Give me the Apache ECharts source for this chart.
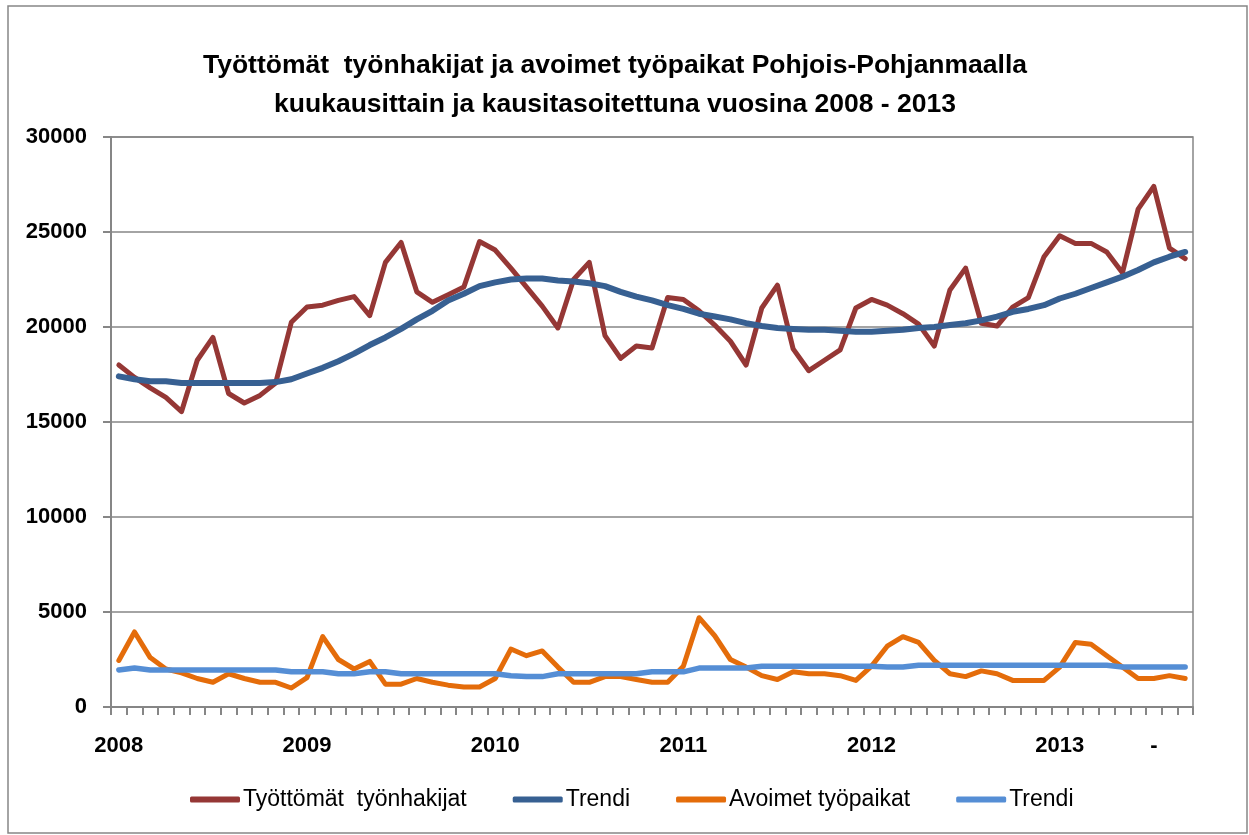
<!DOCTYPE html>
<html>
<head>
<meta charset="utf-8">
<script src="https://cdn.jsdelivr.net/npm/echarts@6/dist/echarts.min.js"></script>
<style>
html,body{margin:0;padding:0;background:#fff;}
#chart{width:1249px;height:835px;}
</style>
</head>
<body>
<div id="chart"></div>
<script>
// Monthly categories Jan 2008 - Sep 2013
const years = [2008, 2009, 2010, 2011, 2012, 2013];
const categories = [];
years.forEach(y => { for (let m = 1; m <= 12; m++) { if (y === 2013 && m > 9) break; categories.push(y + '-' + (m < 10 ? '0' + m : m)); } });

const tickLabels = [
  '2008','','','','','','','','','','','',
  '2009','','','','','','','','','','','',
  '2010','','','','','','','','','','','',
  '2011','','','','','','','','','','','',
  '2012','','','','','','','','','','','',
  '2013','','','','','','-','',''
];

const unemployed = [
  18000,17350,16800,16300,15550,18250,19450,16500,16000,16400,17050,20250,
  21050,21150,21400,21600,20600,23400,24450,21850,21300,21700,22100,24500,
  24050,23100,22100,21100,19950,22500,23400,19550,18350,19000,18900,21550,
  21450,20850,20100,19250,18000,21000,22200,18850,17700,18250,18800,21000,
  21450,21150,20700,20150,19000,21950,23100,20200,20050,21050,21550,23700,
  24800,24400,24400,23950,22850,26200,27400,24150,23600
];
const unemployedTrend = [
  17400,17250,17150,17150,17050,17050,17050,17050,17050,17050,17100,17250,
  17550,17850,18200,18600,19050,19450,19900,20400,20850,21400,21750,22150,
  22350,22500,22550,22550,22450,22400,22300,22150,21850,21600,21400,21150,
  20950,20700,20550,20400,20200,20050,19950,19900,19850,19850,19800,19750,
  19750,19800,19850,19950,20000,20100,20200,20350,20550,20800,20950,21150,
  21500,21750,22050,22350,22650,23000,23400,23700,23950
];
const vacancies = [
  2450,3950,2600,2000,1800,1500,1300,1750,1500,1300,1300,1000,
  1550,3700,2500,2000,2400,1200,1200,1500,1300,1150,1050,1050,
  1500,3050,2700,2950,2100,1300,1300,1600,1600,1450,1300,1300,
  2150,4700,3750,2500,2100,1650,1450,1850,1750,1750,1650,1400,
  2150,3200,3700,3400,2450,1750,1600,1900,1750,1400,1400,1400,
  2100,3400,3300,2700,2100,1500,1500,1650,1500
];
const vacanciesTrend = [
  1950,2050,1950,1950,1950,1950,1950,1950,1950,1950,1950,1850,
  1850,1850,1750,1750,1850,1850,1750,1750,1750,1750,1750,1750,
  1750,1650,1600,1600,1750,1750,1750,1750,1750,1750,1850,1850,
  1850,2050,2050,2050,2050,2150,2150,2150,2150,2150,2150,2150,
  2150,2100,2100,2200,2200,2200,2200,2200,2200,2200,2200,2200,
  2200,2200,2200,2200,2100,2100,2100,2100,2100
];

const seriesNames = ['Työttömät  työnhakijat', 'Trendi', 'Avoimet työpaikat', 'Trendi '];
const colors = ['#953735', '#376092', '#e46c0a', '#558ed5'];

const chart = echarts.init(document.getElementById('chart'), null, {renderer: 'canvas'});
const font = '"Liberation Sans", Arial, sans-serif';

function mkSeries(name, data, color, width) {
  return {
    name: name, type: 'line', data: data, symbol: 'none', smooth: false,
    lineStyle: {color: color, width: width, cap: 'round', join: 'round'},
    itemStyle: {color: color}, animation: false
  };
}

chart.setOption({
  animation: false,
  color: colors,
  title: {
    text: 'Työttömät  työnhakijat ja avoimet työpaikat Pohjois-Pohjanmaalla\nkuukausittain ja kausitasoitettuna vuosina 2008 - 2013',
    left: 610, top: 41, textAlign: 'center',
    textStyle: {fontFamily: font, fontWeight: 'bold', fontSize: 26.5, color: '#000', lineHeight: 39}
  },
  legend: {
    data: seriesNames.map((n, i) => ({name: n})),
    bottom: 19, left: 185,
    icon: 'roundRect', itemWidth: 50, itemHeight: 6, itemGap: 46,
    formatter: n => n.trim(),
    textStyle: {fontFamily: font, fontSize: 23, color: '#000', padding: [0, 0, 0, -2]}
  },
  grid: {left: 111, right: 56, top: 137, bottom: 128, show: true, borderColor: '#868686', borderWidth: 1.5, backgroundColor: '#fff'},
  xAxis: {
    type: 'category', data: categories, boundaryGap: true,
    axisLine: {lineStyle: {color: '#868686', width: 2}},
    axisTick: {show: true, interval: 0, length: 8, lineStyle: {color: '#868686', width: 2}},
    axisLabel: {interval: 0, margin: 28, formatter: (v, i) => tickLabels[i], fontFamily: font, fontWeight: 'bold', fontSize: 22, color: '#000'},
    splitLine: {show: false}
  },
  yAxis: {
    type: 'value', min: 0, max: 30000, interval: 5000,
    axisLine: {show: true, lineStyle: {color: '#868686', width: 2}},
    axisTick: {show: true, length: 8, lineStyle: {color: '#868686', width: 2}},
    axisLabel: {margin: 24, formatter: v => String(v), fontFamily: font, fontWeight: 'bold', fontSize: 22, color: '#000'},
    splitLine: {show: true, lineStyle: {color: '#868686', width: 1.5}}
  },
  graphic: [{
    type: 'rect', shape: {x: 8, y: 6, width: 1239, height: 827},
    style: {fill: 'none', stroke: '#868686', lineWidth: 1.5}, silent: true, z: -10
  }],
  series: [
    mkSeries(seriesNames[0], unemployed, colors[0], 5),
    mkSeries(seriesNames[1], unemployedTrend, colors[1], 6),
    mkSeries(seriesNames[2], vacancies, colors[2], 5),
    mkSeries(seriesNames[3], vacanciesTrend, colors[3], 5.5)
  ]
});
</script>
</body>
</html>
